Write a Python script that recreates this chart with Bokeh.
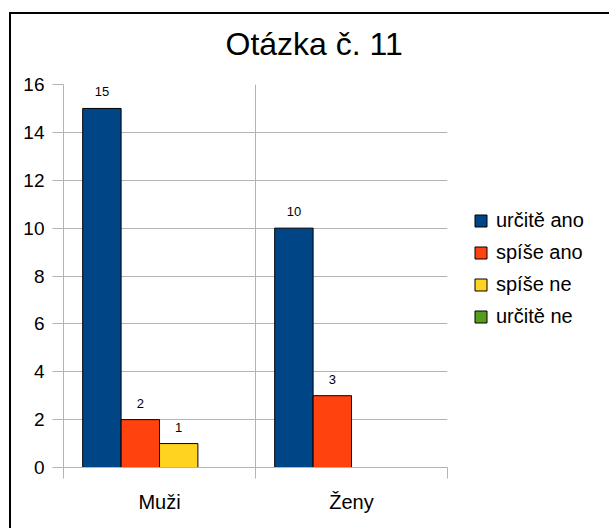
from bokeh.plotting import figure
from bokeh.models import (ColumnDataSource, FixedTicker, Legend, LegendItem,
                          LabelSet, Range1d)
from bokeh.core.properties import value
from bokeh.embed import file_html
from bokeh.resources import INLINE

# ---- data ----
categories = ["Muži", "Ženy"]
series = ["určitě ano", "spíše ano", "spíše ne", "určitě ne"]
values_urcite_ano = [15, 10]
values_spise_ano = [2, 3]
values_spise_ne = [1, 0]
values_urcite_ne = [0, 0]
colors = ["#004586", "#ff420e", "#ffd320", "#579d1c"]
y_ticks = [0, 2, 4, 6, 8, 10, 12, 14, 16]
title_text = "Otázka č. 11"

all_values = [values_urcite_ano, values_spise_ano, values_spise_ne, values_urcite_ne]
offsets = [-0.3, -0.1, 0.1, 0.3]
bar_width = 0.2
FONT = "Liberation Sans"
GRID = "#b3b3b3"

p = figure(frame_width=384, frame_height=383, output_backend="svg", toolbar_location=None,
           x_range=Range1d(0, len(categories)), y_range=Range1d(0, 16),
           min_border_left=63, min_border_right=162, min_border_top=84,
           min_border_bottom=61)
# outer chart border: left and top edges, drawn behind the transparent canvas
p.styles = {
    "background-image": "linear-gradient(#000, #000), linear-gradient(#000, #000)",
    "background-repeat": "no-repeat",
    "background-position": "9px 12px, 9px 12px",
    "background-size": "600px 2px, 2px 520px",
}
p.outline_line_color = None
p.background_fill_color = "white"
p.border_fill_alpha = 0

renderers = []
for i, (name, vals) in enumerate(zip(series, all_values)):
    has_bars = any(v > 0 for v in vals)
    keep = [j for j, v in enumerate(vals) if v > 0] or list(range(len(vals)))
    src = ColumnDataSource(dict(x=[j + 0.5 + offsets[i] for j in keep],
                                top=[vals[j] for j in keep]))
    r = p.vbar(x="x", top="top", width=bar_width, source=src,
               fill_color=colors[i], line_color="black", line_width=1)
    r.visible = has_bars
    renderers.append(r)
    pos = [j for j, v in enumerate(vals) if v > 0]
    lsrc = ColumnDataSource(dict(x=[j + 0.5 + offsets[i] for j in pos],
                                 top=[vals[j] for j in pos],
                                 label=[str(vals[j]) for j in pos]))
    p.add_layout(LabelSet(x="x", y="top", text="label", source=lsrc, y_offset=12,
                          text_align="center", text_baseline="alphabetic",
                          text_font_size="13px", text_font=value(FONT),
                          text_color="black"))

legend = Legend(items=[LegendItem(label=s, renderers=[r]) for s, r in zip(series, renderers)],
                location="top_left", orientation="vertical", glyph_width=15, glyph_height=15,
                label_standoff=8, spacing=9, padding=0, margin=26,
                border_line_color=None, background_fill_alpha=0,
                inactive_fill_alpha=0,
                title=" ", title_text_font_size="20px", title_standoff=76,
                label_text_font=FONT, label_text_font_size="20px", label_text_color="black")
p.add_layout(legend, "right")

p.title.text = title_text
p.title.align = "left"
p.title.text_font = FONT
p.title.text_font_size = "32px"
p.title.text_font_style = "normal"
p.title.text_color = "black"
p.title.offset = 162
p.title.standoff = 45

# x axis
p.xaxis.ticker = FixedTicker(ticks=[j + 0.5 for j in range(len(categories))],
                             minor_ticks=list(range(len(categories) + 1)))
p.xaxis.major_label_overrides = {j + 0.5: c for j, c in enumerate(categories)}
p.xaxis.major_tick_out = 0
p.xaxis.major_tick_in = 0
p.xaxis.minor_tick_out = 11
p.xaxis.minor_tick_in = 0
p.xaxis.minor_tick_line_color = GRID
p.xaxis.axis_line_color = GRID
p.xaxis.major_label_standoff = 12
p.xaxis.major_label_text_font = FONT
p.xaxis.major_label_text_font_size = "20px"
p.xaxis.major_label_text_color = "black"

# y axis
p.yaxis.ticker = FixedTicker(ticks=y_ticks)
p.yaxis.major_tick_out = 11
p.yaxis.major_tick_in = 0
p.yaxis.minor_tick_line_color = None
p.yaxis.major_tick_line_color = GRID
p.yaxis.axis_line_color = GRID
p.yaxis.major_label_standoff = 8
p.yaxis.major_label_text_font = FONT
p.yaxis.major_label_text_font_size = "19px"
p.yaxis.major_label_text_color = "black"

p.xgrid.grid_line_color = None
p.xgrid.minor_grid_line_color = GRID
p.ygrid.grid_line_color = GRID

open("out.html", "w").write(file_html(p, INLINE))
